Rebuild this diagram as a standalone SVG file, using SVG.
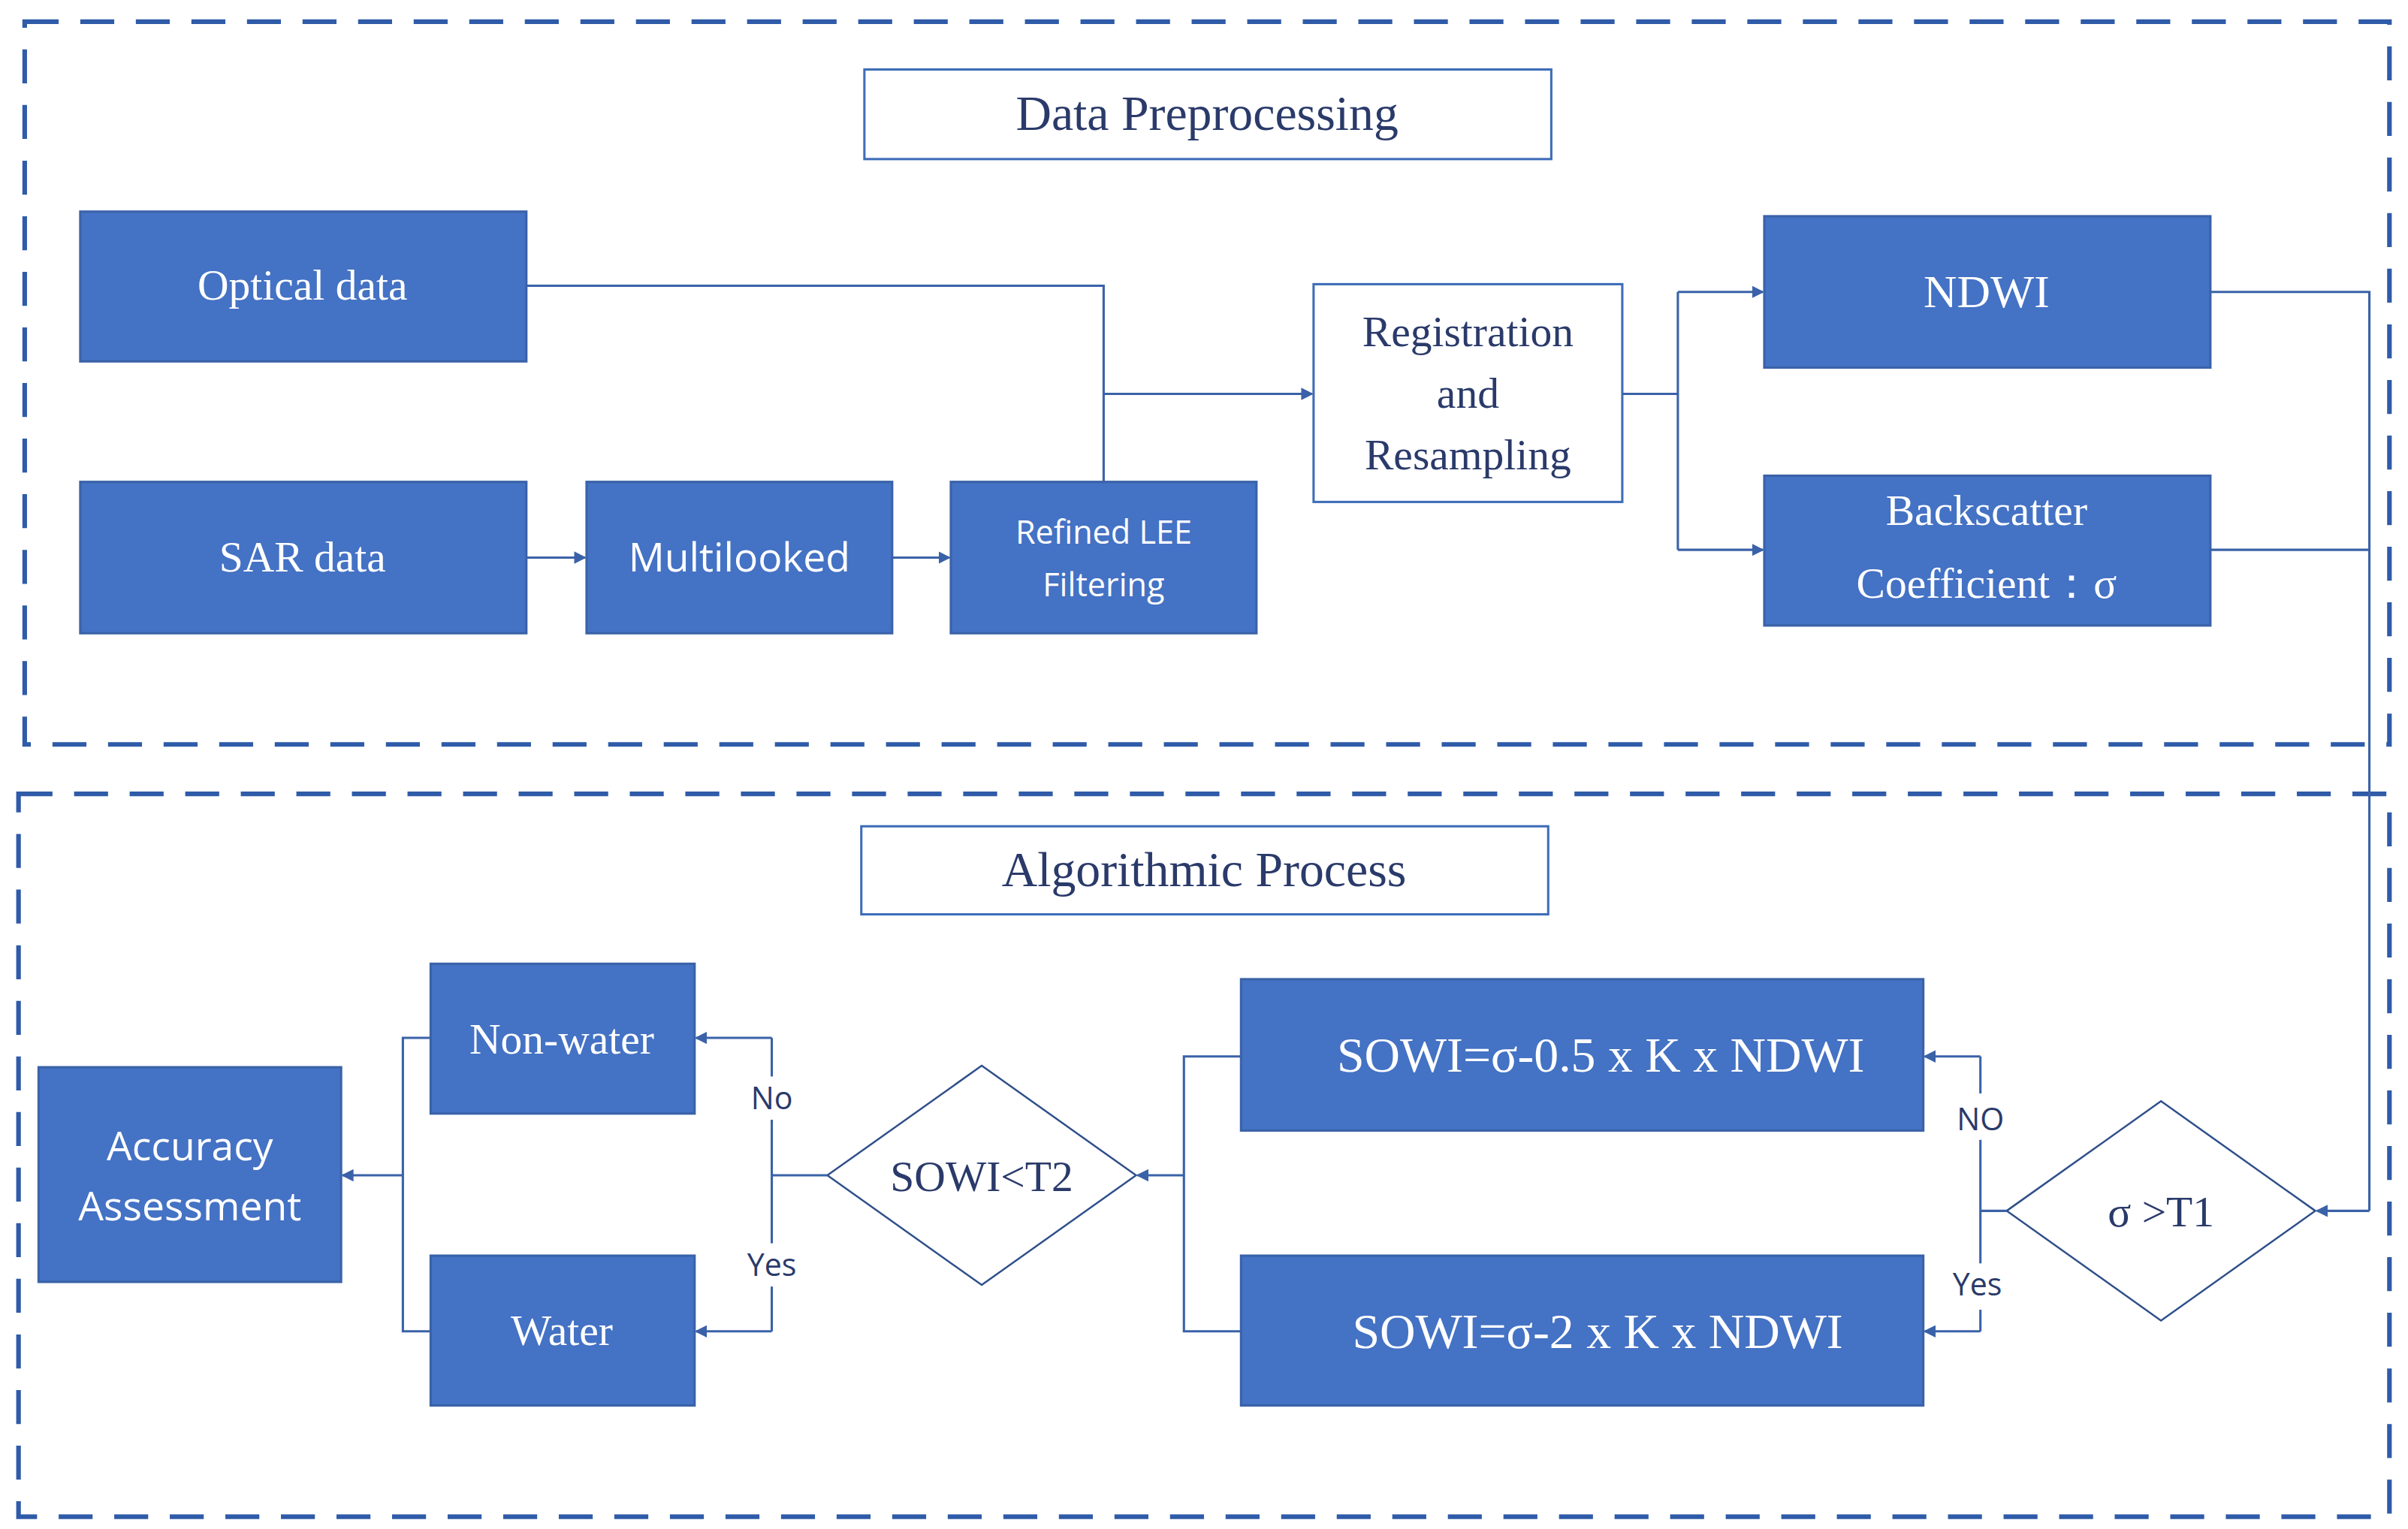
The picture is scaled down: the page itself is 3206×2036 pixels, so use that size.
<svg xmlns="http://www.w3.org/2000/svg" width="3206" height="2036" viewBox="0 0 3206 2036">
<style>
.frame{fill:none;stroke:#2F5BA8;stroke-width:3;stroke-dasharray:22,14}
.box{fill:#4472C4;stroke:#3A62A8;stroke-width:1.5}
.wbox{fill:#fff;stroke:#3F6DB8;stroke-width:1.5}
.dia{fill:#fff;stroke:#2F4F8A;stroke-width:1.2}
.ser{font-family:"Liberation Serif",serif;text-anchor:middle}
.san{font-family:"Open Sans","Liberation Sans",sans-serif;text-anchor:middle}
.w{fill:#fff}
.d{fill:#2A3A6A}
.c{fill:none;stroke:#3A62A8;stroke-width:1.5}
</style>
<defs>
<marker id="ah" markerWidth="8" markerHeight="8" refX="7" refY="4" orient="auto" markerUnits="userSpaceOnUse" viewBox="0 0 8 8"><path d="M0,0 L8,4 L0,8 z" fill="#3A62A8"/></marker>
</defs>
<rect width="3206" height="2036" fill="#fff"/>
<g transform="scale(2.0551,2.0566)">
<rect class="frame" x="16" y="14" width="1532" height="468"/>
<rect class="frame" x="12" y="514" width="1536" height="468"/>
<g id="t1"><rect class="wbox" x="560" y="45" width="445" height="58"/><text class="ser d" x="782" y="84" font-size="32">Data Preprocessing</text></g>
<g id="t2"><rect class="wbox" x="558" y="535" width="445" height="57"/><text class="ser d" x="780" y="574" font-size="32">Algorithmic Process</text></g>
<g id="optical"><rect class="box" x="52" y="137" width="289" height="97"/><text class="ser w" x="196" y="194" font-size="28">Optical data</text></g>
<g id="sar"><rect class="box" x="52" y="312" width="289" height="98"/><text class="ser w" x="196" y="370" font-size="28">SAR data</text></g>
<g id="multi"><rect class="box" x="380" y="312" width="198" height="98"/><text class="san w" x="479" y="370" font-size="26">Multilooked</text></g>
<g id="lee"><rect class="box" x="616" y="312" width="198" height="98"/><text class="san w" x="715" y="352" font-size="21">Refined LEE</text><text class="san w" x="715" y="386" font-size="21">Filtering</text></g>
<g id="reg"><rect class="wbox" x="851" y="184" width="200" height="141"/><text class="ser d" x="951" y="224" font-size="28">Registration</text><text class="ser d" x="951" y="264" font-size="28">and</text><text class="ser d" x="951" y="304" font-size="28">Resampling</text></g>
<g id="ndwi"><rect class="box" x="1143" y="140" width="289" height="98"/><text class="ser w" x="1287" y="199" font-size="30">NDWI</text></g>
<g id="back"><rect class="box" x="1143" y="308" width="289" height="97"/><text class="ser w" x="1287" y="340" font-size="28">Backscatter</text><text class="ser w" x="1287" y="387" font-size="28">Coefficient：σ</text></g>
<g id="d1"><polygon class="dia" points="1400,713 1500,784 1400,855 1300,784"/><text class="ser d" x="1400" y="794" font-size="28">σ &gt;T1</text></g>
<g id="s1"><rect class="box" x="804" y="634" width="442" height="98"/><text class="ser w" x="1037" y="694" font-size="32">SOWI=σ-0.5 x K x NDWI</text></g>
<g id="s2"><rect class="box" x="804" y="813" width="442" height="97"/><text class="ser w" x="1035" y="873" font-size="32">SOWI=σ-2 x K x NDWI</text></g>
<g id="d2"><polygon class="dia" points="636,690 736,761 636,832 536,761"/><text class="ser d" x="636" y="771" font-size="28">SOWI&lt;T2</text></g>
<g id="nonw"><rect class="box" x="279" y="624" width="171" height="97"/><text class="ser w" x="364" y="682" font-size="28">Non-water</text></g>
<g id="water"><rect class="box" x="279" y="813" width="171" height="97"/><text class="ser w" x="364" y="871" font-size="28">Water</text></g>
<g id="acc"><rect class="box" x="25" y="691" width="196" height="139"/><text class="san w" x="123" y="751" font-size="26">Accuracy</text><text class="san w" x="123" y="790" font-size="26">Assessment</text></g>
<g id="connectors">
<path class="c" d="M341,185 H715 V312"/>
<path class="c" d="M715,255 H850" marker-end="url(#ah)"/>
<path class="c" d="M341,361 H379" marker-end="url(#ah)"/>
<path class="c" d="M578,361 H615" marker-end="url(#ah)"/>
<path class="c" d="M1051,255 H1087"/>
<path class="c" d="M1087,189 V356"/>
<path class="c" d="M1087,189 H1142" marker-end="url(#ah)"/>
<path class="c" d="M1087,356 H1142" marker-end="url(#ah)"/>
<path class="c" d="M1432,189 H1535 V784"/>
<path class="c" d="M1432,356 H1535"/>
<path class="c" d="M1535,784 H1501" marker-end="url(#ah)"/>
<path class="c" d="M1300,784 H1283"/>
<path class="c" d="M1283,684 V862"/>
<path class="c" d="M1283,684 H1247" marker-end="url(#ah)"/>
<path class="c" d="M1283,862 H1247" marker-end="url(#ah)"/>
<path class="c" d="M804,684 H767 V862 H804"/>
<path class="c" d="M767,761 H737" marker-end="url(#ah)"/>
<path class="c" d="M536,761 H500"/>
<path class="c" d="M500,672 V862"/>
<path class="c" d="M500,672 H451" marker-end="url(#ah)"/>
<path class="c" d="M500,862 H451" marker-end="url(#ah)"/>
<path class="c" d="M279,672 H261 V862 H279"/>
<path class="c" d="M261,761 H222" marker-end="url(#ah)"/>
<rect x="1266" y="708" width="34" height="30" fill="#fff"/>
<text class="san d" x="1283" y="732" font-size="20">NO</text>
<rect x="1262" y="818" width="38" height="30" fill="#fff"/>
<text class="san d" x="1281" y="839" font-size="20">Yes</text>
<rect x="484" y="697" width="32" height="28" fill="#fff"/>
<text class="san d" x="500" y="718" font-size="20">No</text>
<rect x="480" y="805" width="40" height="28" fill="#fff"/>
<text class="san d" x="500" y="826" font-size="20">Yes</text>
</g>
</g>
</svg>
